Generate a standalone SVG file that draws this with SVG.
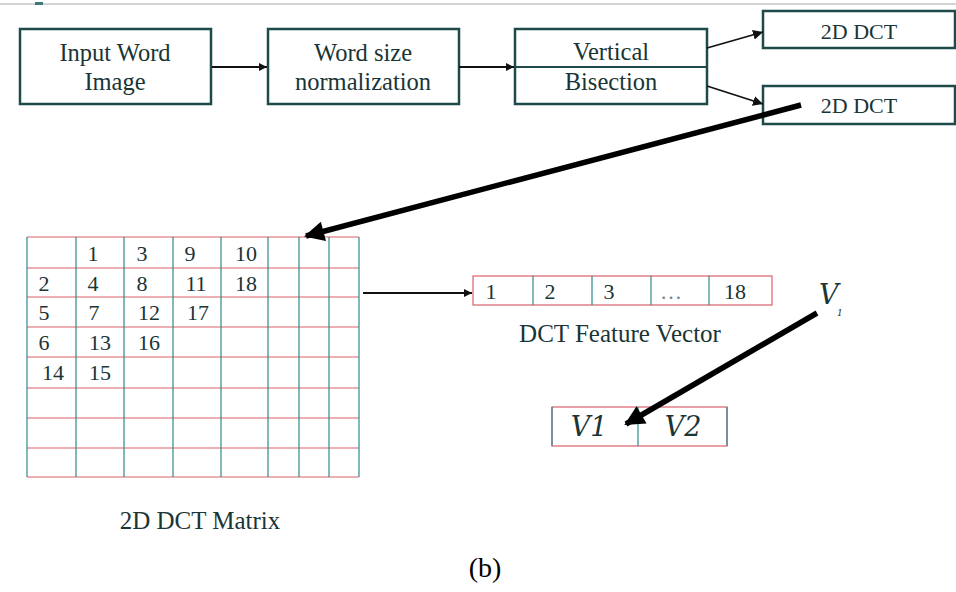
<svg xmlns="http://www.w3.org/2000/svg" width="956" height="592" viewBox="0 0 956 592">
<defs>
<style>
.box{fill:#fff;stroke:#1e4a4a;stroke-width:2.5}
.t{font-family:"Liberation Serif","Times New Roman",serif;fill:#1a3535;text-anchor:middle}
.big{font-size:24.5px}
.mid{font-size:22px}
.num{font-size:22px}
.hl{stroke:#d9606a;stroke-width:1.2}
.vl{stroke:#2e8a8a;stroke-width:1.2}
.conn{stroke:#111;stroke-width:1.8;fill:none}
.thick{stroke:#000;stroke-width:5.5;fill:none}
.it{font-family:"DejaVu Serif","Liberation Serif",serif;font-style:italic;fill:#1a3535}
</style>
<marker id="ah" viewBox="0 0 10 10" refX="10" refY="5" markerWidth="8" markerHeight="8" markerUnits="userSpaceOnUse" orient="auto"><path d="M0,0 L10,5 L0,10 z" fill="#111"/></marker>
<marker id="ahs" viewBox="0 0 10 10" refX="10" refY="5" markerWidth="10" markerHeight="10" markerUnits="userSpaceOnUse" orient="auto"><path d="M0,0 L10,5 L0,10 z" fill="#111"/></marker>
<marker id="ahb" viewBox="0 0 10 10" refX="9" refY="5" markerWidth="24" markerHeight="20" markerUnits="userSpaceOnUse" orient="auto"><path d="M0,0 L10,5 L0,10 z" fill="#000"/></marker>
</defs>
<rect width="956" height="592" fill="#fff"/>
<line x1="0" y1="4" x2="956" y2="4" stroke="#c4c4c4" stroke-width="1.5"/>
<rect x="35" y="2" width="8" height="3" fill="#3c7a7a"/>

<g id="input">
<rect class="box" x="20" y="29" width="191" height="75"/>
<text class="t big" x="115" y="61">Input Word</text>
<text class="t big" x="115" y="90">Image</text>
</g>
<g id="normalization">
<rect class="box" x="268" y="29" width="191" height="75"/>
<text class="t big" x="363" y="61">Word size</text>
<text class="t big" x="363" y="90">normalization</text>
</g>
<g id="bisection">
<rect class="box" x="515" y="29" width="192" height="75"/>
<line x1="515" y1="67" x2="707" y2="67" stroke="#1e4a4a" stroke-width="2"/>
<text class="t big" x="611" y="60">Vertical</text>
<text class="t big" x="611" y="90">Bisection</text>
</g>
<g id="dct1">
<rect class="box" x="763" y="11" width="192" height="37"/>
<text class="t mid" x="859" y="39">2D DCT</text>
</g>
<g id="dct2">
<rect class="box" x="763" y="86" width="192" height="38"/>
<text class="t mid" x="859" y="113">2D DCT</text>
</g>

<g id="matrix">
<g class="hl">
<line x1="27" y1="237" x2="359" y2="237"/>
<line x1="27" y1="268" x2="359" y2="268"/>
<line x1="27" y1="297" x2="359" y2="297"/>
<line x1="27" y1="327" x2="359" y2="327"/>
<line x1="27" y1="357" x2="359" y2="357"/>
<line x1="27" y1="388" x2="359" y2="388"/>
<line x1="27" y1="418" x2="359" y2="418"/>
<line x1="27" y1="448" x2="359" y2="448"/>
<line x1="27" y1="477" x2="359" y2="477"/>
</g>
<g class="vl">
<line x1="27" y1="237" x2="27" y2="477"/>
<line x1="76" y1="237" x2="76" y2="477"/>
<line x1="124" y1="237" x2="124" y2="477"/>
<line x1="173" y1="237" x2="173" y2="477"/>
<line x1="221" y1="237" x2="221" y2="477"/>
<line x1="268" y1="237" x2="268" y2="477"/>
<line x1="299" y1="237" x2="299" y2="477"/>
<line x1="329" y1="237" x2="329" y2="477"/>
<line x1="359" y1="237" x2="359" y2="477"/>
</g>
<g class="t num">
<text x="93" y="261">1</text><text x="142" y="261">3</text><text x="190" y="261">9</text><text x="246" y="261">10</text>
<text x="44" y="291">2</text><text x="93" y="291">4</text><text x="142" y="291">8</text><text x="196" y="291">11</text><text x="246" y="291">18</text>
<text x="44" y="320">5</text><text x="94" y="320">7</text><text x="149" y="320">12</text><text x="198" y="320">17</text>
<text x="44" y="350">6</text><text x="100" y="350">13</text><text x="149" y="350">16</text>
<text x="53" y="380">14</text><text x="100" y="380">15</text>
</g>
</g>
<g id="matrix-label">
<text class="t" style="font-size:25px" x="200" y="529">2D DCT Matrix</text>
</g>

<g id="feature-vector">
<rect x="473" y="276" width="299" height="29" fill="#fff" stroke="#d9606a" stroke-width="1.2"/>
<g class="vl">
<line x1="533" y1="276" x2="533" y2="305"/>
<line x1="592" y1="276" x2="592" y2="305"/>
<line x1="651" y1="276" x2="651" y2="305"/>
<line x1="709" y1="276" x2="709" y2="305"/>
</g>
<g class="t num">
<text x="491" y="299">1</text><text x="550" y="299">2</text><text x="609" y="299">3</text><text x="671" y="299" fill="#6a8a8a">…</text><text x="735" y="299">18</text>
</g>
<text class="t" style="font-size:25px" x="620" y="342">DCT Feature Vector</text>
</g>

<g id="v-label">
<text class="it" x="819" y="304" style="font-size:27px">V</text>
<text class="it" x="837" y="316" style="font-size:9px">1</text>
</g>

<g id="v1v2">
<rect x="552" y="407" width="175" height="39" fill="none" stroke="#d9606a" stroke-width="1.2"/>
<line x1="552" y1="407" x2="552" y2="446" class="vl"/>
<line x1="638" y1="407" x2="638" y2="446" class="vl"/>
<line x1="727" y1="407" x2="727" y2="446" class="vl"/>
<text class="it" x="589" y="436" style="font-size:27px;text-anchor:middle">V1</text>
<text class="it" x="683" y="436" style="font-size:27px;text-anchor:middle">V2</text>
</g>

<g id="connectors">
<line class="conn" x1="212" y1="67" x2="267" y2="67" marker-end="url(#ah)"/>
<line class="conn" x1="459" y1="67" x2="514" y2="67" marker-end="url(#ah)"/>
<line class="conn" x1="707" y1="48" x2="763" y2="32" marker-end="url(#ahs)"/>
<line class="conn" x1="707" y1="86" x2="763" y2="104" marker-end="url(#ahs)"/>
<line class="thick" x1="801" y1="105" x2="306" y2="236" marker-end="url(#ahb)"/>
<line class="conn" x1="363" y1="293" x2="472" y2="293" marker-end="url(#ah)"/>
<line class="thick" x1="817" y1="313" x2="626" y2="424" marker-end="url(#ahb)"/>
</g>

<text x="485" y="577" style="font-family:'Liberation Serif','DejaVu Serif',serif;font-size:28px;text-anchor:middle" fill="#000">(b)</text>
</svg>
